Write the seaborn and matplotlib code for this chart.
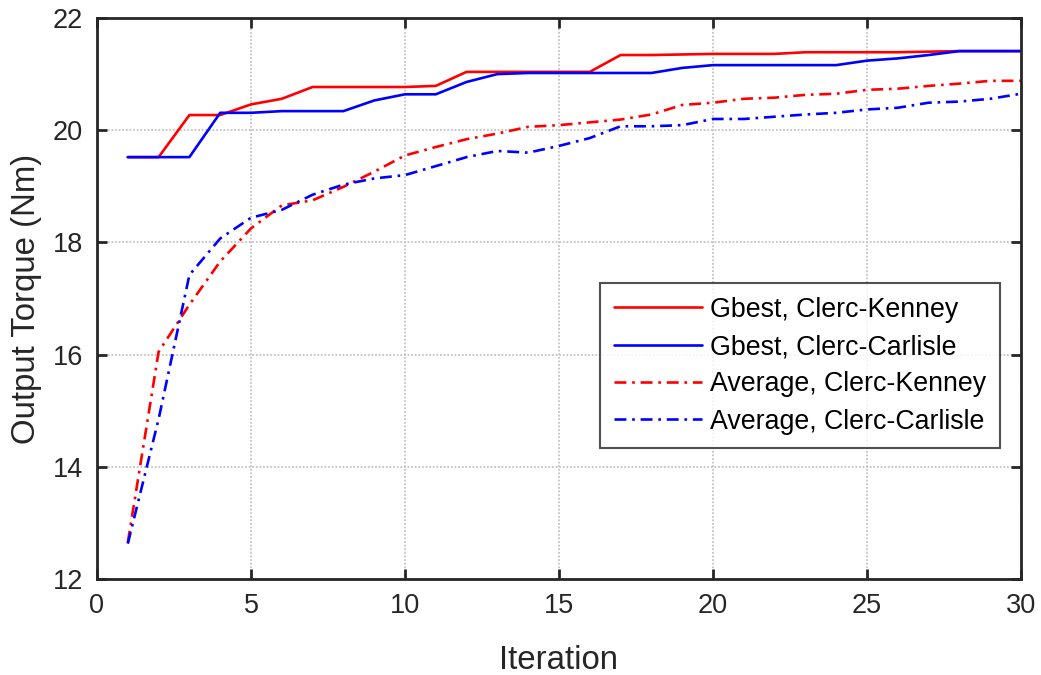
import matplotlib
matplotlib.use("Agg")
import matplotlib.pyplot as plt
import seaborn as sns
import pandas as pd

iterations = list(range(1, 31))
gbest_ck = [19.52, 19.52, 20.27, 20.27, 20.46, 20.56, 20.77, 20.77, 20.77, 20.77,
            20.79, 21.04, 21.04, 21.04, 21.04, 21.04, 21.34, 21.34, 21.35, 21.36,
            21.36, 21.36, 21.39, 21.39, 21.39, 21.39, 21.40, 21.41, 21.41, 21.41]
gbest_cc = [19.52, 19.52, 19.52, 20.31, 20.31, 20.34, 20.34, 20.34, 20.53, 20.64,
            20.64, 20.86, 21.00, 21.02, 21.02, 21.02, 21.02, 21.02, 21.11, 21.16,
            21.16, 21.16, 21.16, 21.16, 21.24, 21.28, 21.34, 21.41, 21.41, 21.41]
avg_ck = [12.65, 16.05, 16.89, 17.66, 18.25, 18.66, 18.75, 18.99, 19.26, 19.55,
          19.70, 19.84, 19.94, 20.06, 20.09, 20.14, 20.19, 20.28, 20.45, 20.49,
          20.56, 20.58, 20.63, 20.65, 20.72, 20.74, 20.79, 20.83, 20.88, 20.88]
avg_cc = [12.63, 14.85, 17.42, 18.07, 18.44, 18.58, 18.85, 19.03, 19.14, 19.20,
          19.36, 19.52, 19.63, 19.60, 19.72, 19.86, 20.07, 20.07, 20.09, 20.20,
          20.20, 20.24, 20.28, 20.31, 20.37, 20.40, 20.49, 20.51, 20.56, 20.65]
labels = ["Gbest, Clerc-Kenney", "Gbest, Clerc-Carlisle",
          "Average, Clerc-Kenney", "Average, Clerc-Carlisle"]
x_ticks = [0, 5, 10, 15, 20, 25, 30]
y_ticks = [12, 14, 16, 18, 20, 22]

sns.set_theme(style="white")
plt.rcParams['font.family'] = ['Liberation Sans', 'DejaVu Sans']
txt = '#262626'

fig = plt.figure(figsize=(10.41, 6.75), dpi=100)
ax = fig.add_axes([97/1041, 1 - 579/675, (1021 - 97)/1041, (579 - 18)/675])

series = [gbest_ck, gbest_cc, avg_ck, avg_cc]
colors = ['#ff0000', '#0000ff', '#ff0000', '#0000ff']
dd = (0, (4.5, 2.2, 1, 2.2))
styles = ['-', '-', dd, dd]
for vals, col, ls, lab in zip(series, colors, styles, labels):
    df = pd.DataFrame({"Iteration": iterations, "Torque": vals})
    sns.lineplot(data=df, x="Iteration", y="Torque", ax=ax, color=col,
                 linestyle=ls, linewidth=1.9, label=lab)

ax.set_xlim(0, 30)
ax.set_ylim(12, 22)
ax.set_xticks(x_ticks)
ax.set_yticks(y_ticks)
ax.grid(True, color='#c4c4c4', linestyle=(0, (1, 1)), linewidth=1.3)
for s in ax.spines.values():
    s.set_color(txt)
    s.set_linewidth(2.0)
    s.set_visible(True)
ax.tick_params(direction='in', length=7, width=2.0, color=txt, labelcolor=txt,
               labelsize=19.5, top=True, right=True, bottom=True, left=True, pad=10)
ax.set_xlabel("Iteration", fontsize=23.8, color=txt, labelpad=19)
ax.set_ylabel("Output Torque (Nm)", fontsize=23.8, color=txt, labelpad=8)

leg = ax.legend(loc='upper right', bbox_to_anchor=(0.977, 0.527), borderaxespad=0,
                fontsize=19.3, frameon=True, fancybox=False, edgecolor=txt,
                handlelength=3.3, handletextpad=0.3, labelspacing=0.42,
                borderpad=0.5)
leg.get_frame().set_linewidth(1.5)
for t in leg.get_texts():
    t.set_color('black')

fig.savefig("out.png", dpi=100)
